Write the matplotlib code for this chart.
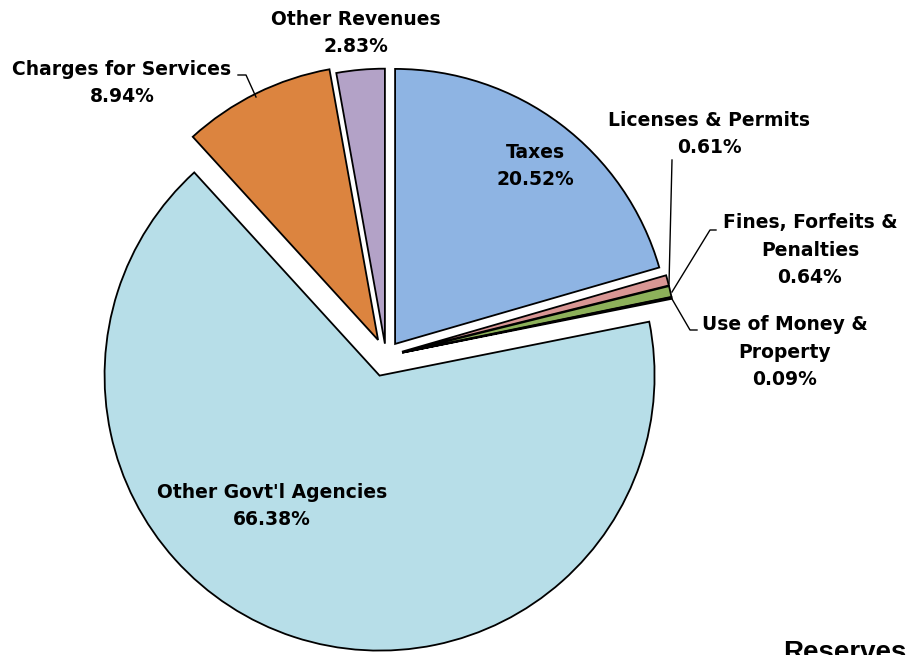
import matplotlib.pyplot as plt

labels = ["Taxes", "Licenses & Permits", "Fines, Forfeits &\nPenalties",
          "Use of Money &\nProperty", "Other Govt'l Agencies",
          "Charges for Services", "Other Revenues"]
shares = [20.52, 0.61, 0.64, 0.09, 66.38, 8.94, 2.83]
colors = ["#8EB4E3", "#D99694", "#8DB15A", "#4F6228", "#B7DEE8", "#DC843F", "#B3A2C7"]
explode = [0.055, 0.06, 0.06, 0.06, 0.075, 0.065, 0.045]

W, H = 916, 655
R = 275.0          # pie radius in px
CX, CY = 386, 356  # pie centre in px (from top-left)

fig = plt.figure(figsize=(W / 100, H / 100), dpi=100)
ax = fig.add_axes([0, 0, 1, 1])
ax.pie(shares, colors=colors, explode=explode, startangle=90, counterclock=False,
       wedgeprops=dict(edgecolor="black", linewidth=1.3))
ax.set_aspect("auto")
ax.set_xlim(-CX / R, (W - CX) / R)
ax.set_ylim(-(H - CY) / R, CY / R)
ax.axis("off")


def px(x, y):
    return ((x - CX) / R, (CY - y) / R)


font = dict(fontsize=13.5, fontweight="bold", family="DejaVu Sans",
            ha="center", va="center", linespacing=1.58)

# label text positions (pixel centres)
ax.text(*px(535, 166), "Taxes\n20.52%", **font)
ax.text(*px(272, 506), "Other Govt'l Agencies\n66.38%", **font)
ax.text(*px(356, 33), "Other Revenues\n2.83%", **font)
ax.text(*px(122, 83), "Charges for Services\n8.94%", **font)
ax.text(*px(709, 134), "Licenses & Permits\n0.61%", **font)
ax.text(*px(810, 250), "Fines, Forfeits &\nPenalties\n0.64%", **font)
ax.text(*px(785, 352), "Use of Money &\nProperty\n0.09%", **font)

# leader lines
leaders = [
    [(238, 75), (246, 75), (256, 97)],
    [(672, 160), (669, 284)],
    [(716, 230), (710, 230), (672, 292)],
    [(672, 299), (690, 330), (697, 330)],
]
for pts in leaders:
    xs, ys = zip(*[px(x, y) for x, y in pts])
    ax.plot(xs, ys, color="black", linewidth=1)

fig.text(783 / W, 1 - 640 / H, "Reserves", fontsize=20, fontweight="bold",
         family="Liberation Sans", ha="left", va="top")

fig.savefig("out.png", dpi=100)
